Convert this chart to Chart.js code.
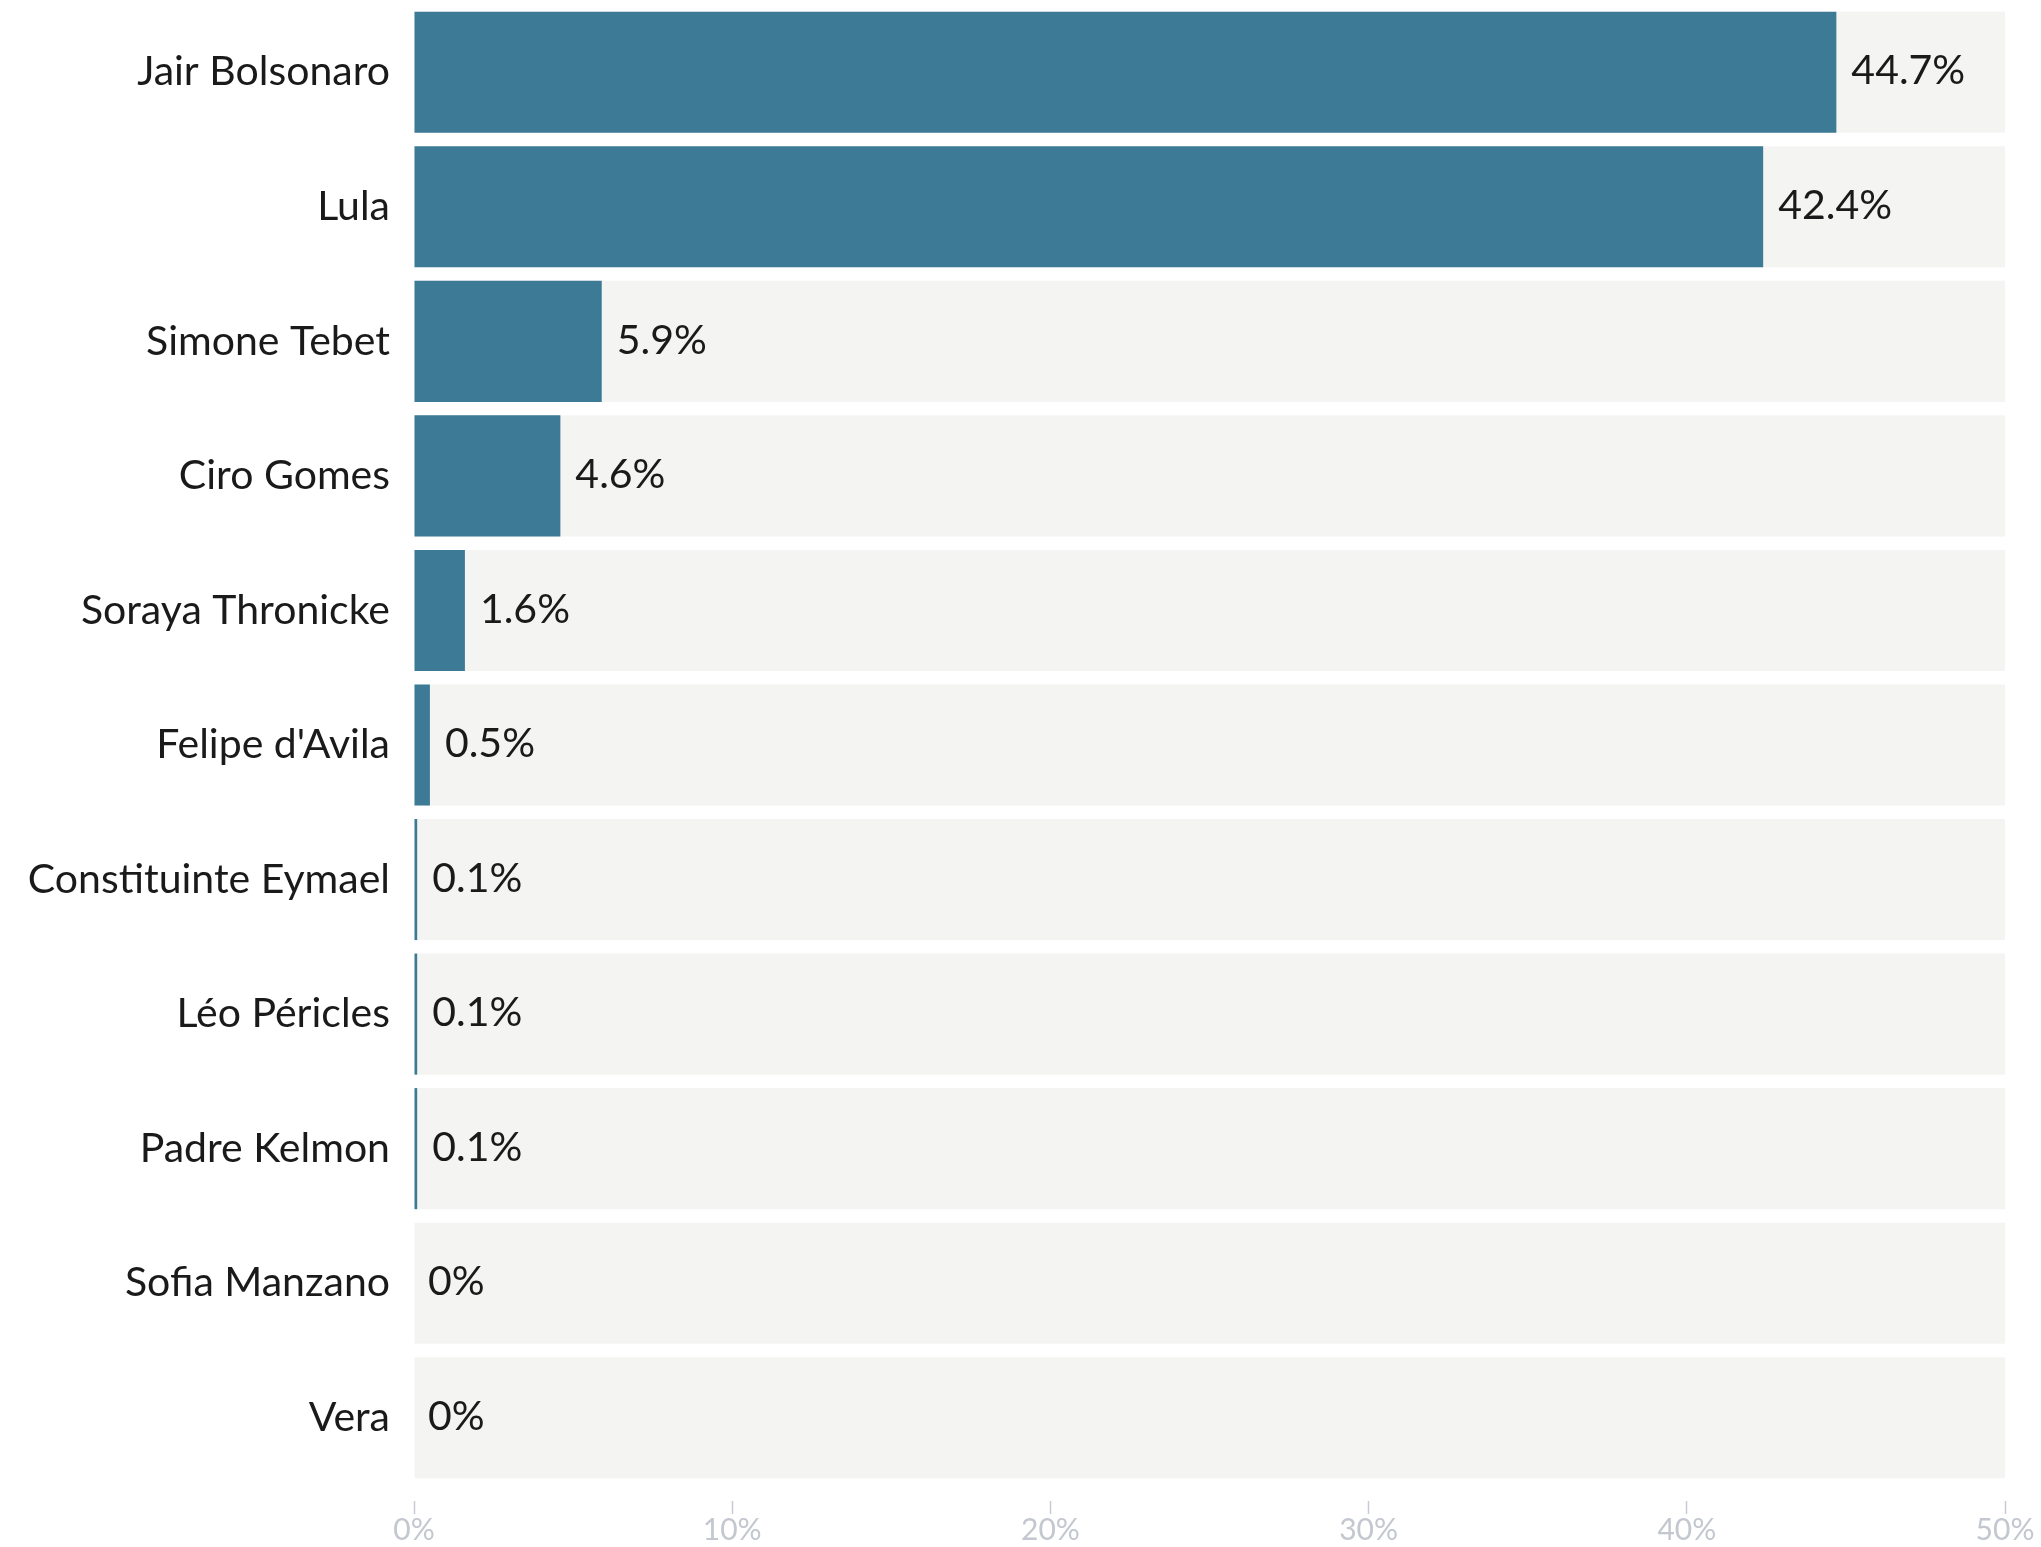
<!DOCTYPE html>
<html>
<head>
<meta charset="utf-8">
<script src="https://cdn.jsdelivr.net/npm/chart.js@4"></script>
<style>
  html, body { margin: 0; padding: 0; background: #ffffff; }
  #wrap { width: 2041px; height: 1547px; }
</style>
</head>
<body>
<div id="wrap"><canvas id="chart"></canvas></div>
<script>
// Candidates and vote share (%)
const candidates = [
  'Jair Bolsonaro', 'Lula', 'Simone Tebet', 'Ciro Gomes', 'Soraya Thronicke',
  "Felipe d'Avila", 'Constituinte Eymael', 'Léo Péricles', 'Padre Kelmon',
  'Sofia Manzano', 'Vera'
];
const voteShare = [44.7, 42.4, 5.9, 4.6, 1.6, 0.5, 0.1, 0.1, 0.1, 0, 0];
const axisMax = 50;
const tickStep = 10;

// Draws the "44.7%" style labels right after each bar
const valueLabels = {
  id: 'valueLabels',
  afterDatasetsDraw(chart) {
    const { ctx, scales: { x, y } } = chart;
    ctx.save();
    ctx.font = '41px Lato';
    ctx.fillStyle = '#1a1a1a';
    ctx.textBaseline = 'middle';
    ctx.textAlign = 'left';
    voteShare.forEach((v, i) => {
      const px = x.getPixelForValue(v) + (v > 0 ? 15 : 14);
      ctx.fillText(v + '%', px, y.getPixelForValue(i) - 1);
    });
    ctx.restore();
  }
};

const ctx = document.getElementById('chart').getContext('2d');
new Chart(ctx, {
  type: 'bar',
  data: {
    labels: candidates,
    datasets: [
      {
        data: voteShare,
        backgroundColor: '#3d7a96',
        grouped: false,
        barPercentage: 0.9,
        categoryPercentage: 1,
        order: 0
      },
      {
        data: candidates.map(() => axisMax),
        backgroundColor: '#f4f4f2',
        grouped: false,
        barPercentage: 0.9,
        categoryPercentage: 1,
        order: 1
      }
    ]
  },
  options: {
    indexAxis: 'y',
    responsive: true,
    maintainAspectRatio: false,
    animation: false,
    layout: { padding: { top: 5, right: 36, bottom: 0, left: 0 } },
    plugins: {
      legend: { display: false },
      tooltip: { enabled: false }
    },
    scales: {
      x: {
        min: 0,
        max: axisMax,
        border: { display: false },
        grid: {
          drawOnChartArea: false,
          drawTicks: true,
          tickLength: 29,
          tickColor: '#c8ccd2',
          tickWidth: 1.5,
          tickBorderDash: [0, 16, 13, 200]
        },
        ticks: {
          stepSize: tickStep,
          padding: 0,
          color: '#c3c7cf',
          font: { family: "'Liberation Sans Narrow', Lato", size: 30, lineHeight: 1.1 },
          callback: v => v + '%'
        }
      },
      y: {
        border: { display: false },
        grid: { display: false },
        afterFit(scale) {
          scale.width = 414;
          scale.paddingTop = 0;
          scale.paddingBottom = 0;
        },
        ticks: {
          padding: 16,
          color: '#1a1a1a',
          font: { family: 'Lato', size: 41 }
        }
      }
    }
  },
  plugins: [valueLabels]
});
</script>
</body>
</html>
